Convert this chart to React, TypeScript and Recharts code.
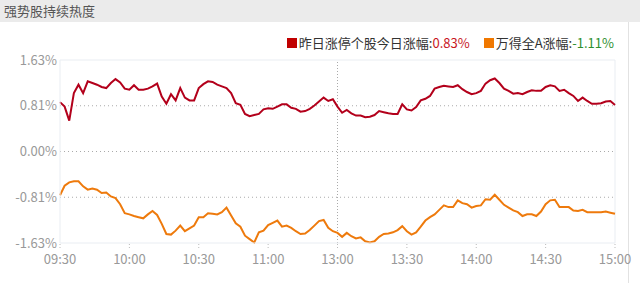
import { LineChart, Line, XAxis, YAxis, CartesianGrid, ReferenceLine } from 'recharts';

// values every 2 minutes of trading time, 09:30 -> 11:30 | 13:00 -> 15:00
const limitUpToday = [
  0.88, 0.80, 0.55, 1.04, 1.19, 1.04, 1.25, 1.22, 1.19, 1.15, 1.13, 1.22, 1.29, 1.23, 1.12, 1.10,
  1.18, 1.10, 1.10, 1.12, 1.16, 1.21, 0.98, 0.85, 1.02, 0.91, 1.13, 0.96, 0.91, 0.91, 1.13,
  1.20, 1.25, 1.24, 1.19, 1.16, 1.13, 1.04, 0.86, 0.83, 0.67, 0.63, 0.65, 0.67, 0.75, 0.77,
  0.76, 0.80, 0.84, 0.84, 0.78, 0.76, 0.71, 0.72, 0.76, 0.82, 0.89, 0.96, 0.90, 0.93, 0.80,
  0.69, 0.74, 0.68, 0.64, 0.64, 0.61, 0.62, 0.65, 0.72, 0.70, 0.68, 0.67, 0.67, 0.84, 0.75,
  0.73, 0.79, 0.91, 0.94, 0.99, 1.12, 1.15, 1.17, 1.16, 1.15, 1.18, 1.11, 1.06, 1.02, 1.04,
  1.08, 1.21, 1.27, 1.30, 1.22, 1.12, 1.08, 1.03, 1.04, 1.02, 1.06, 1.09, 1.08, 1.08, 1.15,
  1.18, 1.16, 1.08, 1.10, 1.04, 0.99, 0.90, 0.96, 0.90, 0.85, 0.85, 0.86, 0.89, 0.90, 0.83,
];

const windAll = [
  -0.78, -0.61, -0.55, -0.53, -0.53, -0.62, -0.68, -0.66, -0.68, -0.74, -0.73, -0.80, -0.83, -0.94, -1.10, -1.12,
  -1.15, -1.17, -1.19, -1.12, -1.06, -1.13, -1.29, -1.47, -1.48, -1.41, -1.32, -1.42, -1.37, -1.32, -1.17,
  -1.17, -1.10, -1.11, -1.12, -1.08, -1.00, -1.14, -1.28, -1.34, -1.50, -1.56, -1.62, -1.44, -1.41, -1.31,
  -1.27, -1.23, -1.34, -1.32, -1.36, -1.42, -1.47, -1.46, -1.40, -1.32, -1.24, -1.22, -1.36, -1.42, -1.45,
  -1.52, -1.45, -1.51, -1.55, -1.53, -1.60, -1.62, -1.60, -1.52, -1.47, -1.46, -1.44, -1.40, -1.33, -1.42,
  -1.48, -1.44, -1.34, -1.23, -1.17, -1.12, -1.04, -0.96, -0.99, -0.99, -0.87, -0.92, -0.94, -1.00, -0.97,
  -0.96, -0.85, -0.86, -0.77, -0.86, -0.95, -1.00, -1.05, -1.08, -1.15, -1.12, -1.12, -1.15, -1.07, -0.94,
  -0.87, -0.86, -0.99, -0.99, -0.99, -1.05, -1.06, -1.04, -1.08, -1.08, -1.08, -1.08, -1.07, -1.09, -1.11,
];

const xTicks = [0, 30, 60, 90, 120, 150, 180, 210, 240];
const xTickLabels = ['09:30', '10:00', '10:30', '11:00', '13:00', '13:30', '14:00', '14:30', '15:00'];
const yTicks = [1.63, 0.815, 0, -0.815, -1.63];
const yTickLabels = ['1.63%', '0.81%', '0.00%', '-0.81%', '-1.63%'];

const data = limitUpToday.map((v, i) => ({ t: i * 2, red: v, orange: windAll[i] }));

const font = '"Noto Sans CJK SC", "Noto Sans", sans-serif';
const edge = '#e9edf2';

export default function App() {
  return (
    <div style={{ position: 'absolute', left: 0, top: 0, width: 640, height: 283, background: '#fff', fontFamily: font, overflow: 'hidden' }}>
      <div style={{ height: 22, background: '#ebebeb', color: '#555', fontSize: 13, lineHeight: '22px', paddingLeft: 4 }}>
        强势股持续热度
      </div>
      <div style={{ position: 'absolute', left: 628, top: 22, width: 1, height: 261, background: '#e2e2e2' }} />
      <div style={{ position: 'absolute', right: 26, top: 33, fontSize: 13, color: '#333', whiteSpace: 'nowrap', display: 'flex', alignItems: 'center' }}>
        <span style={{ display: 'inline-block', width: 10, height: 10, background: '#c00000', marginRight: 2 }} />
        <span>昨日涨停个股今日涨幅:</span>
        <span style={{ color: '#c8161d' }}>0.83%</span>
        <span style={{ display: 'inline-block', width: 10, height: 10, background: '#f07800', marginLeft: 14, marginRight: 2 }} />
        <span>万得全A涨幅:</span>
        <span style={{ color: '#2f8f2f' }}>-1.11%</span>
      </div>
      <div style={{ position: 'absolute', left: 0, top: 0 }}>
        <LineChart width={640} height={283} data={data} margin={{ top: 60, right: 25, bottom: 10, left: 0 }}>
          <CartesianGrid vertical={false} stroke="#aaa" strokeDasharray="1 3" horizontalValues={[0.815, 0, -0.815]} />
          <XAxis
            dataKey="t"
            type="number"
            domain={[0, 240]}
            ticks={xTicks}
            tickFormatter={(v: number) => xTickLabels[xTicks.indexOf(v)]}
            height={30}
            axisLine={{ stroke: edge }}
            tickLine={{ stroke: '#bbb', strokeDasharray: '1 2' }}
            tickSize={5}
            tickMargin={7}
            tick={{ fill: '#999', fontSize: 13, fontFamily: font }}
            interval={0}
          />
          <YAxis
            type="number"
            domain={[-1.63, 1.63]}
            ticks={yTicks}
            tickFormatter={(v: number) => yTickLabels[yTicks.indexOf(v)]}
            width={60}
            axisLine={{ stroke: edge }}
            tickLine={false}
            tickSize={0}
            tickMargin={3}
            tick={{ fill: '#999', fontSize: 13, fontFamily: font }}
            interval={0}
          />
          <ReferenceLine y={1.63} stroke={edge} />
          <ReferenceLine x={240} stroke={edge} />
          <ReferenceLine x={120} stroke="#aaa" strokeDasharray="1 2" />
          <Line type="linear" dataKey="red" stroke="#b3001b" strokeWidth={2} dot={false} isAnimationActive={false} />
          <Line type="linear" dataKey="orange" stroke="#ee7a0c" strokeWidth={2} dot={false} isAnimationActive={false} />
        </LineChart>
      </div>
    </div>
  );
}
